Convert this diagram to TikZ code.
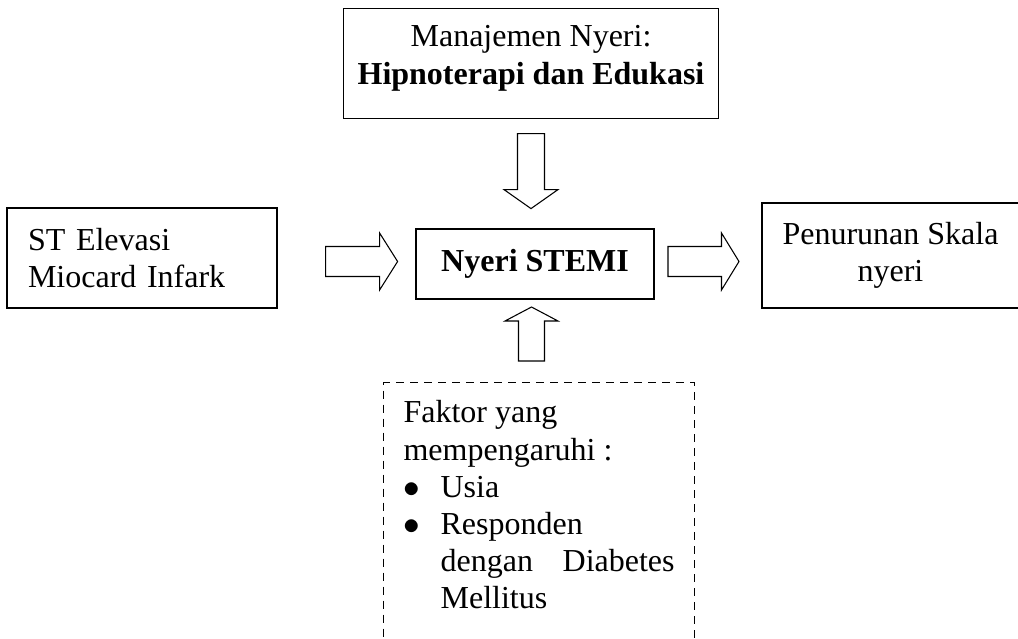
\documentclass[tikz,border=0pt]{standalone}
\usepackage{fontspec}
\setmainfont{Liberation Serif}
\usepackage{tikz}
\usetikzlibrary{calc}
\newcommand{\mainsize}{\fontsize{24}{27.75}\selectfont}
\tikzset{
  box/.style={rectangle, draw=black, line width=0.9pt, fill=white, inner sep=0pt,
              align=center, font=\mainsize},
  mainbox/.style={box, line width=1.5pt, font=\mainsize\bfseries},
  sidebox/.style={box, align=left, text width=171pt},
  factorbox/.style={box, dash pattern=on 6pt off 4.5pt, inner xsep=15pt, inner ysep=13.5pt,
                    align=left},
  hollow/.style={draw=black, line width=0.8pt, fill=white, line join=miter},
}
% hollow block arrow: #1 tail, #2 rotation, #3 length, #4 head length, #5 half shaft, #6 half head
\newcommand{\hollowarrow}[6]{%
  \draw[hollow, shift={(#1)}, rotate=#2]
    (0,#5) -- ({#3-#4},#5) -- ({#3-#4},#6) -- (#3,0) -- ({#3-#4},-#6) -- ({#3-#4},-#5) -- (0,-#5) -- cycle;}

\begin{document}
\begin{tikzpicture}[x=0.75pt, y=-0.75pt]
\useasboundingbox (0,0) rectangle (1018,639);
\clip (0,0) rectangle (1018,639);

% boxes
\node[box, minimum width=281.25pt, minimum height=82.5pt] (mgmt) at (531,63.5)
 {Manajemen Nyeri:\\[0.75pt] \textbf{Hipnoterapi dan Edukasi}\rule[-12.7pt]{0pt}{12.7pt}};
\node[mainbox, minimum width=178.5pt, minimum height=52.5pt] (stemi) at (535,264) {Nyeri STEMI};
\node[sidebox, minimum width=202.5pt, minimum height=75pt] (stemi-cause) at (142,258)
 {ST Elevasi\\ Miocard Infark};
\node[box, minimum width=192.75pt, minimum height=78.75pt] (outcome) at (890.5,255.5)
 {Penurunan Skala\\ nyeri};
\node[factorbox, anchor=north west] (factor) at (383,382)
 {\parbox[c][183pt][t]{203.25pt}{\fontsize{24}{27.9}\selectfont
  Faktor yang\\
  mempengaruhi :\\
  \makebox[27.75pt][l]{$\bullet$}Usia\\
  \makebox[27.75pt][l]{$\bullet$}Responden\\
  \hspace*{27.75pt}\makebox[175.5pt][s]{dengan Diabetes}\\
  \hspace*{27.75pt}Mellitus}};

% block arrows
\coordinate (down-tail) at ($(mgmt.south)+(0,14.5)$);
\coordinate (up-tail) at ($(factor.north west)+(148.5,-21)$);
\coordinate (in-tail) at ($(stemi-cause.east)+(48,3.5)$);
\coordinate (out-tail) at ($(stemi.east)+(13,-2.5)$);
\hollowarrow{down-tail}{-90}{75}{19}{13.5}{27}
\hollowarrow{up-tail}{90}{54}{14}{13}{26.5}
\hollowarrow{in-tail}{0}{72}{18}{15}{28.5}
\hollowarrow{out-tail}{0}{71}{17.5}{15}{28.5}
\end{tikzpicture}
\end{document}
